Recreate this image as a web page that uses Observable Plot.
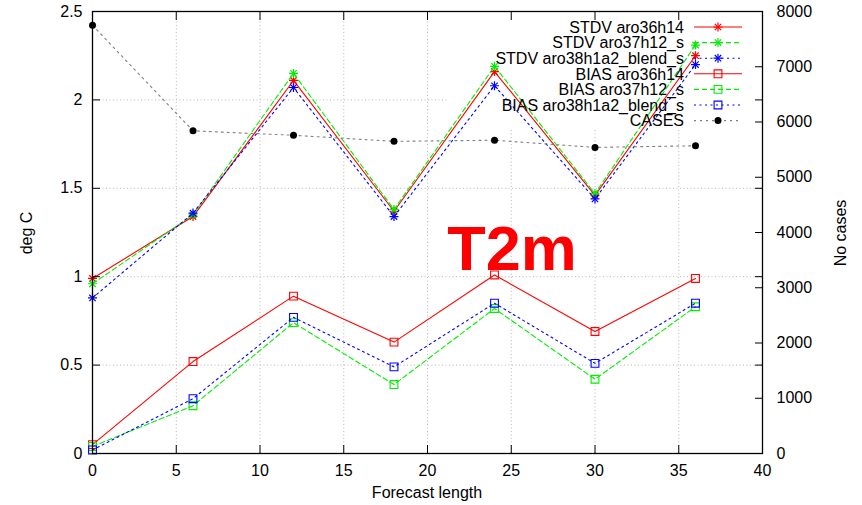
<!DOCTYPE html>
<html><head><meta charset="utf-8">
<script src="https://cdn.jsdelivr.net/npm/d3@7"></script>
<script src="https://cdn.jsdelivr.net/npm/@observablehq/plot@0.6"></script>
<style>
body{margin:0;background:#fff}
svg{font-family:"Liberation Sans",Arial,Helvetica,sans-serif}
</style>
</head><body><div id="chart"></div>
<script>
// ---- data ----
const forecast = [0, 6, 12, 18, 24, 30, 36];
const stdvAro36h14 = [0.99, 1.34, 2.11, 1.37, 2.16, 1.46, 2.25];
const stdvAro37h12s = [0.96, 1.35, 2.15, 1.38, 2.19, 1.47, 2.31];
const stdvAro38blend = [0.88, 1.36, 2.07, 1.34, 2.08, 1.44, 2.20];
const biasAro36h14 = [0.05, 0.52, 0.89, 0.63, 1.01, 0.69, 0.99];
const biasAro37h12s = [0.04, 0.27, 0.74, 0.39, 0.82, 0.42, 0.83];
const biasAro38blend = [0.02, 0.31, 0.77, 0.49, 0.85, 0.51, 0.85];
const cases = [7750, 5840, 5760, 5650, 5670, 5540, 5570];
const seriesNames = ["STDV aro36h14", "STDV aro37h12_s", "STDV aro38h1a2_blend_s",
  "BIAS aro36h14", "BIAS aro37h12_s", "BIAS aro38h1a2_blend_s", "CASES"];
const xTicks = [0, 5, 10, 15, 20, 25, 30, 35, 40];
const yTicks = [0, 0.5, 1, 1.5, 2, 2.5];
const y2Ticks = [0, 1000, 2000, 3000, 4000, 5000, 6000, 7000, 8000];
const yMax = 2.5, y2Max = 8000;
const titleText = "T2m";

// ---- styles ----
const k = yMax / y2Max;
const styles = [
  {color: "#ff0000", dash: null, marker: "star"},
  {color: "#00ee00", dash: "5,3", marker: "star"},
  {color: "#0000ff", dash: "2,3.5", marker: "star"},
  {color: "#ff0000", dash: null, marker: "square"},
  {color: "#00ee00", dash: "5,3", marker: "square"},
  {color: "#0000ff", dash: "2,3.5", marker: "square"},
  {color: "#808080", dash: "2,4", marker: "dot", lineColor: "#808080", markColor: "#000"}
];
const valuesList = [stdvAro36h14, stdvAro37h12s, stdvAro38blend, biasAro36h14, biasAro37h12s, biasAro38blend,
  cases.map(c => c * k)];

const marks = [
  Plot.gridX({ticks: xTicks.slice(1, -1), stroke: "#b8b8b8", strokeOpacity: 1, strokeDasharray: "1,2.5"}),
  Plot.gridY({ticks: yTicks.slice(1, -1), stroke: "#b8b8b8", strokeOpacity: 1, strokeDasharray: "1,2.5"})
];
valuesList.forEach((vals, i) => {
  const s = styles[i];
  const data = forecast.map((x, j) => ({x, y: vals[j]}));
  marks.push(Plot.line(data, {x: "x", y: "y", stroke: s.lineColor || s.color, strokeWidth: 1.1,
    strokeDasharray: s.dash || undefined}));
  if (s.marker === "star") {
    marks.push(Plot.dot(data, {x: "x", y: "y", symbol: "plus", r: 3, stroke: s.color, strokeWidth: 1.2}));
    marks.push(Plot.dot(data, {x: "x", y: "y", symbol: "times", r: 3, stroke: s.color, strokeWidth: 1.2}));
  } else if (s.marker === "square") {
    marks.push(Plot.dot(data, {x: "x", y: "y", symbol: "square", r: 4.4, stroke: s.color, fill: "none", strokeWidth: 1.1}));
  } else {
    marks.push(Plot.dot(data, {x: "x", y: "y", r: 3.5, fill: s.markColor, stroke: "none"}));
  }
});
const y2Pos = y2Ticks.map(v => v * k);
marks.push(
  Plot.frame({stroke: "#000", strokeWidth: 1.3}),
  // inward tick marks (no text)
  Plot.axisX({anchor: "bottom", ticks: xTicks, tickSize: 8, insetBottom: 8, fill: "none", label: null, stroke: "#000"}),
  Plot.axisX({anchor: "top", ticks: xTicks, tickSize: 8, insetTop: 8, fill: "none", label: null, stroke: "#000"}),
  Plot.axisY({anchor: "left", ticks: yTicks, tickSize: 8, insetLeft: 8, fill: "none", label: null, stroke: "#000"}),
  Plot.axisY({anchor: "right", ticks: yTicks, tickSize: 8, insetRight: 8, fill: "none", label: null, stroke: "#000"}),
  Plot.axisY({anchor: "right", ticks: y2Pos, tickSize: 8, insetRight: 8, fill: "none", label: null, stroke: "#000"}),
  // tick labels (no tick marks)
  Plot.axisX({anchor: "bottom", ticks: xTicks, tickSize: 0, tickPadding: 11, tickFormat: d => String(d), label: null, fill: "#000"}),
  Plot.axisY({anchor: "left", ticks: yTicks, tickSize: 0, tickPadding: 10, tickFormat: d => String(d), label: null, fill: "#000"}),
  Plot.axisY({anchor: "right", ticks: y2Pos, tickSize: 0, tickPadding: 14,
    tickFormat: d => String(Math.round(d / k)), label: null, fill: "#000"})
);

const chart = Plot.plot({
  width: 862, height: 505,
  marginLeft: 92, marginRight: 100, marginTop: 11, marginBottom: 52,
  style: {fontSize: "16px", fontFamily: '"Liberation Sans", Arial, sans-serif', background: "#fff", color: "#000"},
  x: {domain: [0, 40], label: null},
  y: {domain: [0, yMax], label: null},
  marks
});
document.getElementById("chart").appendChild(chart);

// ---- decorations: key box, legend, labels, title ----
const svg = d3.select(chart);
// opaque key box hides grid behind legend (as gnuplot does)
const gridNode = svg.select('g[aria-label="y-grid"]').node();
if (gridNode) {
  const box = document.createElementNS("http://www.w3.org/2000/svg", "rect");
  box.setAttribute("x", 447); box.setAttribute("y", 12);
  box.setAttribute("width", 314); box.setAttribute("height", 116);
  box.setAttribute("fill", "#fff");
  gridNode.parentNode.insertBefore(box, gridNode.nextSibling);
}

const leg = svg.append("g").attr("font-size", 16);
seriesNames.forEach((name, i) => {
  const s = styles[i];
  const yy = 27 + i * 15.6;
  leg.append("text").attr("x", 684).attr("y", yy).attr("dy", "0.36em")
    .attr("text-anchor", "end").attr("fill", "#000").text(name);
  leg.append("line").attr("x1", 694).attr("x2", 742).attr("y1", yy).attr("y2", yy)
    .attr("stroke", s.lineColor || s.color).attr("stroke-width", 1.1)
    .attr("stroke-dasharray", s.dash || null);
  if (s.marker === "star") {
    leg.append("path").attr("transform", `translate(718,${yy})`)
      .attr("d", d3.symbol(d3.symbolPlus, 9 * Math.PI)()).attr("stroke", s.color).attr("fill", "none").attr("stroke-width", 1.2);
    leg.append("path").attr("transform", `translate(718,${yy})`)
      .attr("d", d3.symbol(d3.symbolTimes, 9 * Math.PI)()).attr("stroke", s.color).attr("fill", "none").attr("stroke-width", 1.2);
  } else if (s.marker === "square") {
    leg.append("path").attr("transform", `translate(718,${yy})`)
      .attr("d", d3.symbol(d3.symbolSquare, 4.4 * 4.4 * Math.PI)()).attr("stroke", s.color).attr("fill", "none").attr("stroke-width", 1.1);
  } else {
    leg.append("circle").attr("cx", 718).attr("cy", yy).attr("r", 3.5).attr("fill", s.markColor);
  }
});

svg.append("text").attr("transform", "translate(26,233) rotate(-90)").attr("text-anchor", "middle")
  .attr("dy", "0.36em").attr("font-size", 16).attr("fill", "#000").text("deg C");
svg.append("text").attr("transform", "translate(840,233) rotate(-90)").attr("text-anchor", "middle")
  .attr("dy", "0.36em").attr("font-size", 16).attr("fill", "#000").text("No cases");
svg.append("text").attr("x", 427).attr("y", 498).attr("text-anchor", "middle")
  .attr("font-size", 16).attr("fill", "#000").text("Forecast length");
svg.append("text").attr("x", 512).attr("y", 270).attr("text-anchor", "middle")
  .attr("font-size", 63).attr("font-weight", "bold").attr("fill", "#ff0000").text(titleText);
</script>
</body></html>
